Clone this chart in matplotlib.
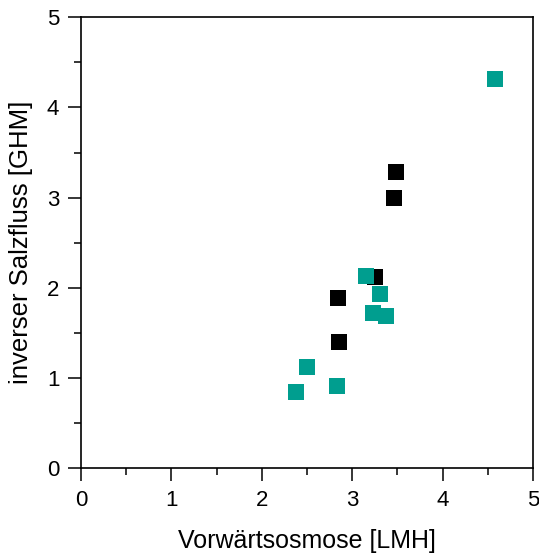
import numpy as np
import matplotlib
matplotlib.use("Agg")
import matplotlib.pyplot as plt
from matplotlib.ticker import MultipleLocator

plt.rcParams['font.family'] = ['Liberation Sans', 'DejaVu Sans']

# data
black_x = [3.48, 3.46, 3.25, 2.84, 2.85]
black_y = [3.28, 3.00, 2.12, 1.89, 1.40]
teal_x = [4.58, 3.15, 3.31, 3.23, 3.37, 2.50, 2.83, 2.38]
teal_y = [4.32, 2.13, 1.93, 1.72, 1.69, 1.12, 0.91, 0.84]

fig = plt.figure(figsize=(5.39, 5.58), dpi=100)
ax = fig.add_axes([0.150, 0.161, 0.839, 0.808])

ax.scatter(black_x, black_y, marker='s', s=118, color='black', linewidths=0, zorder=3)
ax.scatter(teal_x, teal_y, marker='s', s=118, color='#009E8F', linewidths=0, zorder=4)

ax.set_xlim(0, 5)
ax.set_ylim(0, 5)
ax.xaxis.set_major_locator(MultipleLocator(1))
ax.xaxis.set_minor_locator(MultipleLocator(0.5))
ax.yaxis.set_major_locator(MultipleLocator(1))
ax.yaxis.set_minor_locator(MultipleLocator(0.5))
ax.tick_params(which='both', direction='out', top=False, right=False, width=1.1, labelsize=16)
ax.tick_params(which='major', length=9.5, pad=6)
ax.tick_params(which='minor', length=4.8)
for sp in ax.spines.values():
    sp.set_linewidth(1.2)

ax.set_xlabel('Vorwärtsosmose [LMH]', fontsize=18, labelpad=13)
ax.set_ylabel('inverser Salzfluss [GHM]', fontsize=18.5, labelpad=10)

fig.savefig('out.png', dpi=100)
